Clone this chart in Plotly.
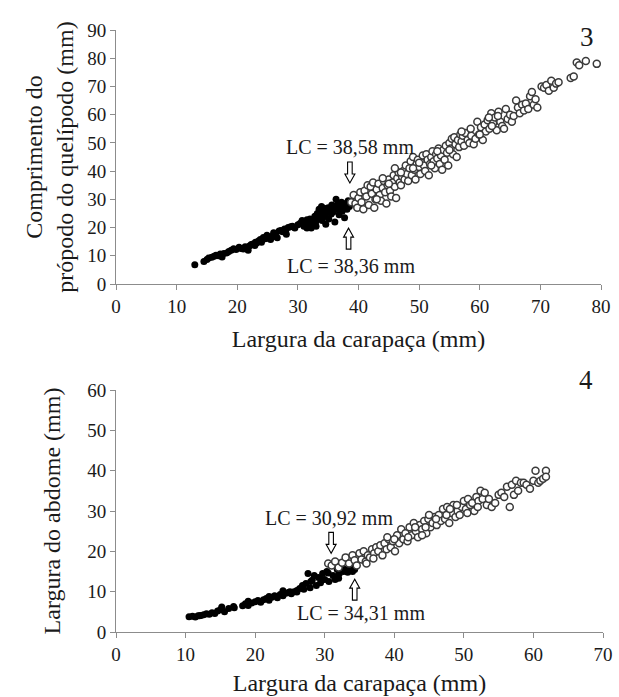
import plotly.graph_objects as go

# ---------- Figure 3: comprimento do própodo vs largura da carapaça ----------
juv3_x = [13.0, 14.5, 15.0, 15.3, 15.8, 16.2, 16.5, 16.9, 17.2, 17.5, 17.8, 18.3, 18.6, 19.0, 19.4, 19.8,
          20.3, 20.6, 21.0, 21.3, 21.6, 22.0, 22.3, 22.6, 22.9, 23.2, 23.5, 23.8, 24.0, 24.3, 24.6, 24.9,
          25.2, 25.5, 25.8, 26.0, 26.3, 26.6, 26.9, 27.2, 27.5, 27.8, 28.1, 28.4, 28.8, 29.1, 30.4, 30.7,
          31.0, 31.2, 31.5, 31.8, 32.0, 32.2, 32.4, 32.6, 32.8, 33.0, 33.2, 33.4, 33.5, 33.7, 33.9, 34.0,
          34.1, 34.3, 34.5, 34.6, 34.8, 35.0, 35.1, 35.3, 35.5, 35.6, 35.8, 36.0, 36.1, 36.3, 36.4, 36.6,
          36.8, 37.0, 37.2, 37.3, 37.5, 37.7, 37.9, 38.1, 38.3, 38.5, 30.0, 29.5, 28.0, 26.0, 23.0, 21.8,
          34.2, 35.9, 33.0, 31.5]
juv3_y = [6.8, 8.0, 8.7, 9.2, 9.5, 9.8, 10.2, 10.0, 10.6, 9.6, 10.8, 11.0, 11.5, 12.0, 12.5, 12.2,
          13.0, 12.6, 12.4, 13.2, 12.8, 13.5, 14.0, 14.2, 13.6, 14.5, 15.2, 15.8, 14.8, 16.5, 16.0, 17.3,
          16.2, 15.8, 17.0, 18.2, 17.6, 16.4, 18.8, 19.0, 18.5, 19.5, 17.6, 20.0, 20.3, 20.5, 21.5, 22.5,
          20.5, 22.0, 22.8, 21.5, 23.0, 19.8, 22.5, 21.0, 24.0, 22.2, 25.0, 23.5, 26.5, 24.5, 27.5, 22.5,
          25.5, 26.8, 24.0, 21.2, 25.8, 27.0, 23.0, 26.0, 24.8, 28.0, 25.5, 27.5, 22.0, 30.0, 26.5, 28.5,
          24.5, 27.0, 29.0, 25.8, 27.8, 23.5, 28.5, 26.5, 29.5, 27.5, 21.0, 19.8, 19.0, 16.8, 14.8, 12.0,
          23.8, 26.2, 20.5, 19.8]
adu3_x = [38.8, 39.2, 39.5, 39.8, 40.0, 40.3, 40.5, 40.8, 41.0, 41.3, 41.5, 41.7, 42.0, 42.2, 42.4, 42.6,
          42.8, 43.0, 43.3, 43.5, 43.7, 44.0, 44.2, 44.4, 44.6, 44.8, 45.0, 45.2, 45.4, 45.6, 45.8, 46.0,
          46.2, 46.4, 46.6, 46.8, 47.0, 47.2, 47.4, 47.6, 47.8, 48.0, 48.2, 48.4, 48.6, 48.8, 49.0, 49.2,
          49.4, 49.6, 49.8, 50.0, 50.2, 50.4, 50.6, 50.8, 51.0, 51.2, 51.4, 51.6, 51.8, 52.0, 52.2, 52.4,
          52.6, 52.8, 53.0, 53.2, 53.4, 53.6, 53.8, 54.0, 54.2, 54.4, 54.6, 54.8, 55.0, 55.2, 55.4, 55.6,
          55.8, 56.0, 56.2, 56.4, 56.6, 56.8, 57.0, 57.2, 57.4, 57.6, 58.0, 58.3, 58.6, 59.0, 59.3, 59.6,
          59.9, 60.2, 60.5, 60.8, 61.0, 61.3, 61.6, 61.9, 62.2, 62.5, 62.8, 63.1, 63.4, 63.7, 64.0, 64.3,
          64.6, 65.0, 65.3, 65.6, 66.0, 66.3, 66.6, 67.0, 67.3, 67.6, 68.0, 68.3, 68.6, 68.9, 69.2, 69.5,
          70.2, 70.6, 71.0, 71.4, 71.8, 72.2, 72.6, 73.0, 75.0, 75.5, 76.0, 76.4, 77.5, 79.3, 50.0, 47.0,
          45.0, 43.0, 53.0, 55.0, 57.0, 60.0, 62.0, 58.5, 63.0, 61.5, 52.0, 49.0, 46.0, 44.0]
adu3_y = [29.0, 31.5, 28.5, 27.0, 30.5, 32.5, 29.0, 26.5, 33.0, 31.0, 35.0, 28.0, 34.5, 32.0, 36.0, 27.0,
          30.0, 33.5, 35.5, 31.5, 29.5, 34.0, 36.5, 32.5, 28.5, 35.0, 37.0, 33.0, 31.0, 36.0, 38.5, 34.5,
          30.5, 37.5, 39.5, 36.0, 35.0, 38.0, 40.0, 37.0, 42.0, 39.0, 36.5, 41.0, 43.5, 38.5, 45.0, 40.5,
          37.0, 42.5, 44.0, 41.5, 39.0, 43.0, 45.5, 42.0, 40.0, 46.0, 44.0, 38.5, 42.5, 45.0, 47.0, 43.5,
          41.0, 46.0, 44.5, 48.0, 42.5, 45.5, 40.5, 47.5, 44.0, 49.0, 46.5, 42.0, 50.0, 48.0, 51.5, 46.0,
          52.0, 49.5, 45.0, 51.0, 48.5, 53.0, 50.5, 52.5, 49.0, 53.5, 51.0, 50.0, 52.5, 49.5, 51.5, 57.5,
          53.0, 55.5, 51.0, 56.5, 54.0, 58.0, 55.0, 60.5, 57.0, 59.0, 54.5, 61.0, 57.5, 56.0, 55.0, 62.0,
          58.5, 60.0, 57.5, 59.5, 65.0, 62.5, 60.5, 63.5, 61.5, 64.0, 62.0, 66.5, 68.0, 63.5, 65.5, 62.5,
          70.0, 69.5, 70.5, 68.5, 72.0, 69.5, 71.0, 71.5, 73.0, 73.5, 78.5, 77.5, 79.0, 78.0, 43.0, 39.5,
          35.5, 30.0, 47.0, 47.5, 54.0, 53.0, 56.0, 55.0, 59.5, 59.0, 42.0, 41.0, 41.0, 37.5]

# ---------- Figure 4: largura do abdome vs largura da carapaça ----------
juv4_x = [10.5, 11.0, 11.4, 11.8, 12.2, 12.6, 13.0, 13.4, 13.8, 14.2, 14.6, 15.0, 15.2, 15.6, 16.2, 16.9,
          18.2, 18.6, 19.0, 19.5, 20.0, 20.4, 20.8, 21.2, 21.6, 22.0, 22.4, 22.8, 23.2, 23.6, 24.0, 24.4,
          24.8, 25.2, 25.6, 26.0, 26.4, 26.8, 27.0, 27.3, 27.6, 27.9, 28.2, 28.5, 28.8, 29.1, 29.4, 29.7,
          30.0, 30.3, 30.6, 30.9, 31.2, 31.5, 31.8, 32.1, 32.4, 32.7, 33.0, 33.3, 33.6, 34.0, 34.3, 26.0,
          24.0, 22.0, 19.0, 17.0, 12.0, 31.5, 32.0, 29.5, 28.0, 30.5, 25.0]
juv4_y = [3.8, 3.9, 3.7, 4.0, 4.1, 4.3, 4.5, 4.4, 4.8, 4.6, 5.2, 5.5, 6.2, 5.0, 5.8, 6.3,
          6.5, 7.0, 6.6, 7.2, 7.5, 7.8, 7.4, 8.0, 8.3, 7.9, 8.6, 9.0, 8.5, 9.3, 9.0, 9.6,
          9.8, 9.5, 10.0, 10.3, 10.8, 11.5, 10.6, 12.0, 14.5, 11.0, 12.8, 14.0, 11.5, 13.5, 12.2, 14.5,
          13.0, 15.0, 12.5, 16.5, 14.0, 13.0, 15.5, 14.5, 16.0, 15.0, 15.5, 14.8, 16.2, 15.0, 15.5, 9.9,
          10.2, 8.8, 7.6, 6.0, 4.0, 13.5, 13.3, 13.0, 12.5, 14.6, 10.0]
adu4_x = [30.5, 31.0, 31.5, 32.0, 32.5, 33.0, 33.5, 34.0, 34.3, 34.6, 35.0, 35.3, 35.6, 35.9, 36.2, 36.5,
          36.8, 37.1, 37.4, 37.7, 38.0, 38.3, 38.6, 38.9, 39.2, 39.5, 39.8, 40.1, 40.4, 40.7, 41.0, 41.3,
          41.6, 41.9, 42.2, 42.5, 42.8, 43.1, 43.4, 43.7, 44.0, 44.3, 44.6, 44.9, 45.2, 45.5, 45.8, 46.1,
          46.4, 46.7, 47.0, 47.3, 47.6, 47.9, 48.2, 48.5, 48.8, 49.1, 49.4, 49.7, 50.0, 50.3, 50.6, 50.9,
          51.2, 51.5, 51.8, 52.1, 52.4, 52.7, 53.0, 53.3, 53.6, 54.0, 54.5, 55.0, 55.4, 55.8, 56.2, 56.6,
          56.9, 57.2, 57.5, 57.8, 58.2, 58.6, 59.0, 59.5, 60.0, 60.3, 60.7, 61.0, 61.4, 61.8, 61.8, 36.0,
          37.0, 39.0, 40.0, 42.0, 43.0, 44.5, 45.0, 46.0, 47.5, 48.0, 49.0, 50.5, 52.0, 44.0]
adu4_y = [17.0, 16.5, 17.5, 16.0, 17.2, 18.5, 17.0, 19.0, 17.8, 16.5, 19.5, 18.0, 20.0, 17.5, 19.0, 18.5,
          20.5, 19.5, 21.0, 20.0, 21.5, 19.0, 22.0, 20.5, 23.0, 21.0, 22.5, 20.0, 24.0, 22.0, 25.5, 23.0,
          24.5, 22.5, 26.0, 24.0, 27.0, 25.0, 23.5, 26.5, 25.5, 27.5, 24.5, 28.0, 26.0, 27.0, 28.5, 26.5,
          29.0, 27.5, 30.5, 28.0, 31.0, 27.0, 29.5, 31.5, 28.5, 30.0, 29.0, 31.0, 32.5, 30.5, 33.0, 31.5,
          32.0, 30.0, 33.5, 32.5, 35.0, 33.0, 34.5, 31.5, 33.0, 31.0, 32.0, 34.0, 34.5, 33.5, 36.0, 31.0,
          36.5, 34.0, 37.5, 35.0, 37.0, 37.0, 36.5, 35.5, 37.5, 40.0, 37.0, 37.5, 38.0, 40.0, 38.5, 17.0,
          18.2, 23.5, 23.0, 23.5, 26.0, 26.0, 29.0, 28.0, 29.0, 30.5, 31.5, 29.5, 31.0, 24.0]

# LC (largura da carapaça na maturidade) annotations
lc3 = [38.58, 38.36]
lc4 = [30.92, 34.31]

x3_ticks = [0, 10, 20, 30, 40, 50, 60, 70, 80]
y3_ticks = [0, 10, 20, 30, 40, 50, 60, 70, 80, 90]
x4_ticks = [0, 10, 20, 30, 40, 50, 60, 70]
y4_ticks = [0, 10, 20, 30, 40, 50, 60]

FONT = "Liberation Serif, Times New Roman, serif"
W, H = 619, 697
ML, MR, MT, MB = 116, 16, 30, 65


def lc_text(v):
    return "LC = " + f"{v:.2f}".replace(".", ",") + " mm"


fig = go.Figure()
filled = dict(color="black", size=7, line=dict(width=0))
hollow = dict(color="white", size=7, line=dict(color="#3a3a3a", width=1.5))

fig.add_trace(go.Scatter(x=juv3_x, y=juv3_y, mode="markers", marker=filled,
                         xaxis="x", yaxis="y", showlegend=False, cliponaxis=False))
fig.add_trace(go.Scatter(x=adu3_x, y=adu3_y, mode="markers", marker=hollow,
                         xaxis="x", yaxis="y", showlegend=False, cliponaxis=False))
fig.add_trace(go.Scatter(x=juv4_x, y=juv4_y, mode="markers", marker=filled,
                         xaxis="x2", yaxis="y2", showlegend=False, cliponaxis=False))
fig.add_trace(go.Scatter(x=adu4_x, y=adu4_y, mode="markers", marker=hollow,
                         xaxis="x2", yaxis="y2", showlegend=False, cliponaxis=False))

axis_common = dict(showgrid=False, zeroline=False, showline=True, linecolor="#8c8c8c",
                   linewidth=1, ticks="outside", ticklen=5, tickcolor="#8c8c8c",
                   automargin=False,
                   tickfont=dict(family=FONT, size=19, color="#1a1a1a"))
plot_h = H - MT - MB
top_dom = [(H - MB - 284) / plot_h, 1.0]
bot_dom = [0.0, (H - MB - 390) / plot_h]
title_font = dict(family=FONT, size=24, color="#1a1a1a")

fig.update_layout(
    width=W, height=H,
    margin=dict(l=ML, r=MR, t=MT, b=MB),
    paper_bgcolor="white", plot_bgcolor="white",
    font=dict(family=FONT, color="#1a1a1a"),
    xaxis=dict(axis_common, range=[0, 80], tickvals=x3_ticks, domain=[0, 485 / 487],
               anchor="y",
               title=dict(text="Largura da carapaça (mm)", font=title_font, standoff=14)),
    yaxis=dict(axis_common, range=[0, 90], tickvals=y3_ticks, domain=top_dom, anchor="x",
               title=dict(text="Comprimento do<br>própodo do quelípodo (mm)",
                          font=title_font, standoff=6)),
    xaxis2=dict(axis_common, range=[0, 70], tickvals=x4_ticks, domain=[0, 1], anchor="y2",
                title=dict(text="Largura da carapaça (mm)", font=title_font, standoff=10)),
    yaxis2=dict(axis_common, range=[0, 60], tickvals=y4_ticks, domain=bot_dom, anchor="x2",
                title=dict(text="Largura do abdome (mm)", font=title_font, standoff=19)),
)

# hollow arrows (pixel-sized, anchored at LC value)
down_path = "M0,0 L-5,9 L-2.3,9 L-2.3,21 L2.3,21 L2.3,9 L5,9 Z"
up_path = "M0,0 L-5,-9 L-2.3,-9 L-2.3,-21 L2.3,-21 L2.3,-9 L5,-9 Z"
arrow_style = dict(type="path", xsizemode="pixel", ysizemode="pixel",
                   line=dict(color="black", width=1.1), fillcolor="white", layer="above")

shapes = [
    dict(arrow_style, xref="x", yref="y", xanchor=lc3[0], yanchor=35.8, path=down_path),
    dict(arrow_style, xref="x", yref="y", xanchor=lc3[1], yanchor=19.8, path=up_path),
    dict(arrow_style, xref="x2", yref="y2", xanchor=lc4[0], yanchor=19.5, path=down_path),
    dict(arrow_style, xref="x2", yref="y2", xanchor=lc4[1], yanchor=13.1, path=up_path),
]
fig.update_layout(shapes=shapes)

ann_font = dict(family=FONT, size=20, color="#1a1a1a")
annotations = [
    dict(x=lc3[0], y=48.6, xref="x", yref="y", text=lc_text(lc3[0]), showarrow=False, font=ann_font),
    dict(x=38.7, y=6.4, xref="x", yref="y", text=lc_text(lc3[1]), showarrow=False, font=ann_font),
    dict(x=30.6, y=28.2, xref="x2", yref="y2", text=lc_text(lc4[0]), showarrow=False, font=ann_font),
    dict(x=35.2, y=4.6, xref="x2", yref="y2", text=lc_text(lc4[1]), showarrow=False, font=ann_font),
    dict(x=(596 - ML) / 487, y=1 + 10 / plot_h, xref="paper", yref="paper", text="3",
         showarrow=False, font=dict(family=FONT, size=27, color="#1a1a1a")),
    dict(x=(595 - ML) / 487, y=(H - MB - 380) / plot_h, xref="paper", yref="paper", text="4",
         showarrow=False, font=dict(family=FONT, size=27, color="#1a1a1a")),
]
fig.update_layout(annotations=annotations)

# remove the browser's default 8px body margin so the figure fills the window exactly
fig.write_html("out.html", config={"displayModeBar": False},
               post_script="document.body.style.margin='0';")
